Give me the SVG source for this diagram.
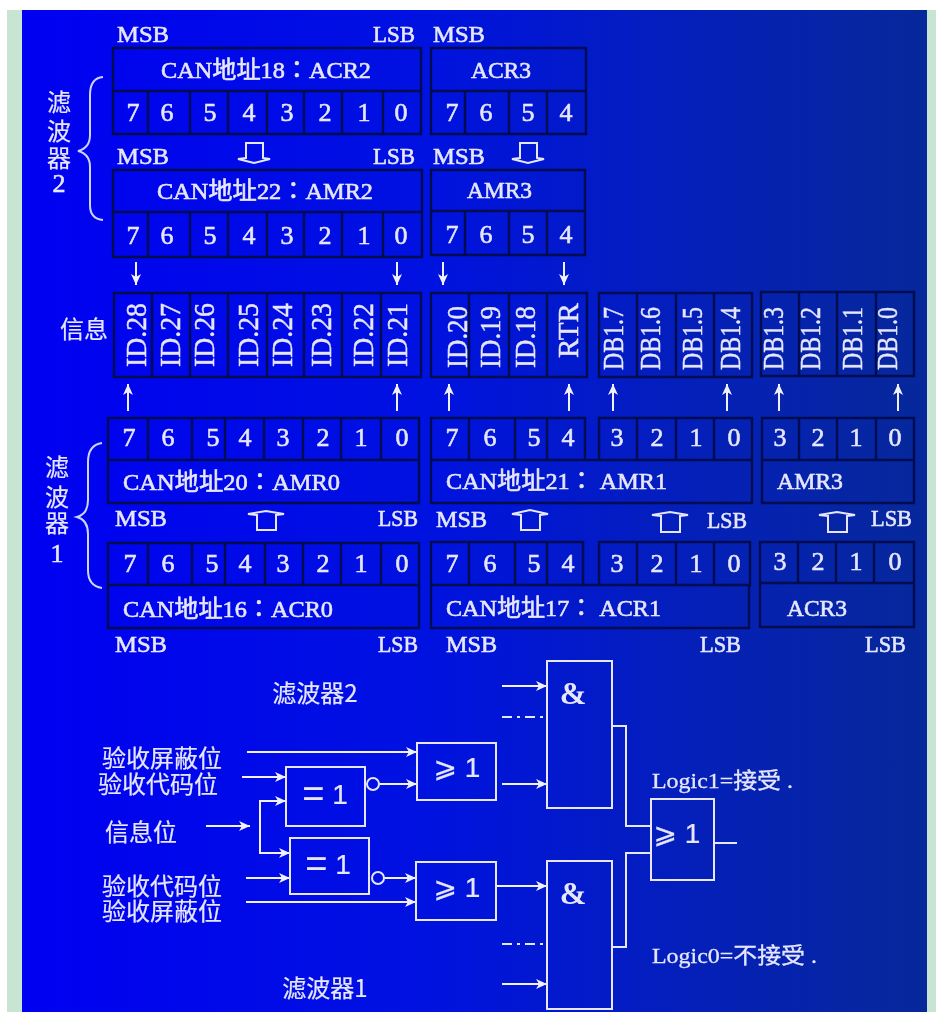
<svg xmlns="http://www.w3.org/2000/svg" width="936" height="1012" viewBox="0 0 936 1012">
<style>
text{font-family:"Liberation Serif","Noto Sans CJK TC",serif;fill:#e6e6ff;stroke:#e6e6ff;stroke-width:.6;filter:url(#soft)}
.d{font-size:26px;text-anchor:middle}
.l{font-size:24px}
.v{font-size:29px;stroke-width:.4}
.z{font-size:24px;font-family:"Noto Sans CJK SC",sans-serif;text-anchor:middle;stroke-width:.2}
.g{font-family:"Liberation Sans","DejaVu Sans",sans-serif;font-size:28px;text-anchor:middle;stroke-width:.2}
.amp{font-size:32px;text-anchor:middle;font-weight:bold;stroke-width:0}
.t{fill:none;stroke:#000c50;stroke-width:2.4}
.c{fill:none;stroke:#e6e6ff;stroke-width:2}
.a{fill:none;stroke:#f0f0ff;stroke-width:2;marker-end:url(#ah)}
.h{fill:none;stroke:#e6e6ff;stroke-width:2}
.b{fill:none;stroke:#ccd4ff;stroke-width:2}
</style>
<defs>
<filter id="soft" x="-5%" y="-5%" width="110%" height="110%"><feGaussianBlur stdDeviation=".35"/></filter>
<linearGradient id="bg" x1="0" x2="1" y1="0" y2="0">
<stop offset="0" stop-color="#0000f2"/><stop offset=".45" stop-color="#0012e0"/><stop offset=".75" stop-color="#0420b8"/><stop offset="1" stop-color="#06289a"/>
</linearGradient>
<marker id="ah" markerUnits="userSpaceOnUse" markerWidth="12" markerHeight="12" refX="11" refY="6" orient="auto">
<path d="M0 1L11 6L0 11L3 6Z" fill="#f0f0ff"/>
</marker>
</defs>
<rect width="936" height="1012" fill="#fff"/>
<rect x="7" y="10" width="929" height="1002" fill="#c8e4d2"/>
<rect x="22" y="10" width="905" height="1002" fill="url(#bg)"/>

<g id="filter2-acr-main"><path class="t" d="M113 48H421V134H113ZM113 91H421M148 91V134M190 91V134M228 91V134M267 91V134M304 91V134M342 91V134M383 91V134"/>
<text class="l" x="161" y="78" textLength="210" lengthAdjust="spacingAndGlyphs">CAN地址18：ACR2</text>
<text class="d" x="133" y="121">7</text><text class="d" x="167" y="121">6</text><text class="d" x="210" y="121">5</text><text class="d" x="249" y="121">4</text><text class="d" x="287" y="121">3</text><text class="d" x="325" y="121">2</text><text class="d" x="364" y="121">1</text><text class="d" x="401" y="121">0</text></g>
<g id="filter2-acr3"><path class="t" d="M431 48H586V134H431ZM431 91H586M465 91V134M509 91V134M547 91V134"/>
<text class="l" x="471" y="78" textLength="60" lengthAdjust="spacingAndGlyphs">ACR3</text>
<text class="d" x="452" y="121">7</text><text class="d" x="486" y="121">6</text><text class="d" x="528" y="121">5</text><text class="d" x="566" y="121">4</text></g>
<g id="filter2-amr-main"><path class="t" d="M113 170H422V257H113ZM113 212H422M148 212V257M190 212V257M228 212V257M267 212V257M304 212V257M342 212V257M383 212V257"/>
<text class="l" x="157" y="199" textLength="216" lengthAdjust="spacingAndGlyphs">CAN地址22：AMR2</text>
<text class="d" x="133" y="244">7</text><text class="d" x="167" y="244">6</text><text class="d" x="210" y="244">5</text><text class="d" x="249" y="244">4</text><text class="d" x="287" y="244">3</text><text class="d" x="325" y="244">2</text><text class="d" x="364" y="244">1</text><text class="d" x="401" y="244">0</text></g>
<g id="filter2-amr3"><path class="t" d="M431 170H585V255H431ZM431 211H585M465 211V255M509 211V255M547 211V255"/>
<text class="l" x="467" y="198" textLength="65" lengthAdjust="spacingAndGlyphs">AMR3</text>
<text class="d" x="452" y="243">7</text><text class="d" x="486" y="243">6</text><text class="d" x="528" y="243">5</text><text class="d" x="566" y="243">4</text></g>

<g id="top-labels">
<text class="l" x="117" y="42" textLength="52" lengthAdjust="spacingAndGlyphs">MSB</text><text class="l" x="373" y="42" textLength="42" lengthAdjust="spacingAndGlyphs">LSB</text><text class="l" x="433" y="42" textLength="52" lengthAdjust="spacingAndGlyphs">MSB</text>
<text class="l" x="117" y="164" textLength="52" lengthAdjust="spacingAndGlyphs">MSB</text><text class="l" x="373" y="164" textLength="42" lengthAdjust="spacingAndGlyphs">LSB</text><text class="l" x="433" y="164" textLength="52" lengthAdjust="spacingAndGlyphs">MSB</text>
</g>
<g id="filter2-label"><path class="b" d="M103 77Q90 78 90 95V135Q90 148 78 151Q90 154 90 167V205Q90 219 103 220"/>
<text class="z" x="59" y="111">滤</text><text class="z" x="59" y="140">波</text><text class="z" x="59" y="167">器</text><text class="d" x="59" y="192">2</text></g>

<g id="message-id-main"><path class="t" d="M114 293H421V377H114ZM152 293V377M190 293V377M228 293V377M267 293V377M304 293V377M342 293V377M381 293V377"/>
<text class="z" x="84" y="338">信息</text>
<text class="v" transform="translate(146 367) rotate(-90)" textLength="64" lengthAdjust="spacingAndGlyphs">ID.28</text>
<text class="v" transform="translate(180 367) rotate(-90)" textLength="64" lengthAdjust="spacingAndGlyphs">ID.27</text>
<text class="v" transform="translate(214 367) rotate(-90)" textLength="64" lengthAdjust="spacingAndGlyphs">ID.26</text>
<text class="v" transform="translate(258 367) rotate(-90)" textLength="64" lengthAdjust="spacingAndGlyphs">ID.25</text>
<text class="v" transform="translate(292 367) rotate(-90)" textLength="64" lengthAdjust="spacingAndGlyphs">ID.24</text>
<text class="v" transform="translate(331 367) rotate(-90)" textLength="64" lengthAdjust="spacingAndGlyphs">ID.23</text>
<text class="v" transform="translate(373 367) rotate(-90)" textLength="64" lengthAdjust="spacingAndGlyphs">ID.22</text>
<text class="v" transform="translate(407 367) rotate(-90)" textLength="64" lengthAdjust="spacingAndGlyphs">ID.21</text></g>
<g id="message-id-low"><path class="t" d="M431 293H587V377H431ZM469 293V377M509 293V377M547 293V377"/>
<text class="v" transform="translate(467 368) rotate(-90)" textLength="62" lengthAdjust="spacingAndGlyphs">ID.20</text>
<text class="v" transform="translate(500 368) rotate(-90)" textLength="62" lengthAdjust="spacingAndGlyphs">ID.19</text>
<text class="v" transform="translate(535 368) rotate(-90)" textLength="62" lengthAdjust="spacingAndGlyphs">ID.18</text>
<text class="v" transform="translate(578 358) rotate(-90)" textLength="55" lengthAdjust="spacingAndGlyphs">RTR</text></g>
<g id="message-db-high"><path class="t" d="M599 293H752V377H599ZM637 293V377M676 293V377M714 293V377"/>
<text class="v" transform="translate(623 370) rotate(-90)" textLength="63" lengthAdjust="spacingAndGlyphs">DB1.7</text>
<text class="v" transform="translate(660 370) rotate(-90)" textLength="63" lengthAdjust="spacingAndGlyphs">DB1.6</text>
<text class="v" transform="translate(702 370) rotate(-90)" textLength="63" lengthAdjust="spacingAndGlyphs">DB1.5</text>
<text class="v" transform="translate(740 370) rotate(-90)" textLength="63" lengthAdjust="spacingAndGlyphs">DB1.4</text></g>
<g id="message-db-low"><path class="t" d="M761 292H914V376H761ZM799 292V376M837 292V376M876 292V376"/>
<text class="v" transform="translate(783 370) rotate(-90)" textLength="63" lengthAdjust="spacingAndGlyphs">DB1.3</text>
<text class="v" transform="translate(820 370) rotate(-90)" textLength="63" lengthAdjust="spacingAndGlyphs">DB1.2</text>
<text class="v" transform="translate(862 370) rotate(-90)" textLength="63" lengthAdjust="spacingAndGlyphs">DB1.1</text>
<text class="v" transform="translate(897 370) rotate(-90)" textLength="63" lengthAdjust="spacingAndGlyphs">DB1.0</text></g>

<g id="filter1-amr0"><path class="t" d="M108 418H419V503H108ZM108 460H419M148 418V460M192 418V460M225 418V460M264 418V460M303 418V460M341 418V460M381 418V460"/>
<text class="l" x="123" y="490" textLength="217" lengthAdjust="spacingAndGlyphs">CAN地址20：AMR0</text>
<text class="d" x="129" y="446">7</text><text class="d" x="168" y="446">6</text><text class="d" x="213" y="446">5</text><text class="d" x="245" y="446">4</text><text class="d" x="283" y="446">3</text><text class="d" x="323" y="446">2</text><text class="d" x="361" y="446">1</text><text class="d" x="402" y="446">0</text></g>
<g id="filter1-amr1"><path class="t" d="M431 418H585V460H431ZM599 418H752V460H599ZM431 460H752V503H431ZM469 418V460M515 418V460M547 418V460M637 418V460M676 418V460M714 418V460"/>
<text class="l" x="446" y="489" textLength="221" lengthAdjust="spacingAndGlyphs">CAN地址21： AMR1</text>
<text class="d" x="452" y="446">7</text><text class="d" x="490" y="446">6</text><text class="d" x="534" y="446">5</text><text class="d" x="568" y="446">4</text><text class="d" x="617" y="446">3</text><text class="d" x="657" y="446">2</text><text class="d" x="696" y="446">1</text><text class="d" x="734" y="446">0</text></g>
<g id="filter1-amr3"><path class="t" d="M762 418H914V503H762ZM762 460H914M799 418V460M837 418V460M876 418V460"/>
<text class="l" x="777" y="489" textLength="66" lengthAdjust="spacingAndGlyphs">AMR3</text>
<text class="d" x="780" y="446">3</text><text class="d" x="818" y="446">2</text><text class="d" x="856" y="446">1</text><text class="d" x="895" y="446">0</text></g>
<g id="filter1-acr0"><path class="t" d="M108 543H419V628H108ZM108 585H419M148 543V585M192 543V585M225 543V585M265 543V585M303 543V585M341 543V585M381 543V585"/>
<text class="l" x="123" y="617" textLength="210" lengthAdjust="spacingAndGlyphs">CAN地址16：ACR0</text>
<text class="d" x="130" y="572">7</text><text class="d" x="168" y="572">6</text><text class="d" x="212" y="572">5</text><text class="d" x="245" y="572">4</text><text class="d" x="283" y="572">3</text><text class="d" x="323" y="572">2</text><text class="d" x="361" y="572">1</text><text class="d" x="402" y="572">0</text></g>
<g id="filter1-acr1"><path class="t" d="M431 542H583V585H431ZM599 542H750V585H599ZM431 585H749V628H431ZM469 542V585M515 542V585M547 542V585M637 542V585M676 542V585M714 542V585"/>
<text class="l" x="446" y="616" textLength="215" lengthAdjust="spacingAndGlyphs">CAN地址17： ACR1</text>
<text class="d" x="452" y="572">7</text><text class="d" x="490" y="572">6</text><text class="d" x="534" y="572">5</text><text class="d" x="568" y="572">4</text><text class="d" x="617" y="572">3</text><text class="d" x="657" y="572">2</text><text class="d" x="696" y="572">1</text><text class="d" x="734" y="572">0</text></g>
<g id="filter1-acr3"><path class="t" d="M760 542H914V627H760ZM760 583H914M798 542V583M836 542V583M874 542V583"/>
<text class="l" x="787" y="616" textLength="60" lengthAdjust="spacingAndGlyphs">ACR3</text>
<text class="d" x="780" y="570">3</text><text class="d" x="818" y="570">2</text><text class="d" x="856" y="570">1</text><text class="d" x="895" y="570">0</text></g>

<g id="lower-labels">
<text class="l" x="115" y="526" textLength="52" lengthAdjust="spacingAndGlyphs">MSB</text><text class="l" x="378" y="526" textLength="40" lengthAdjust="spacingAndGlyphs">LSB</text>
<text class="l" x="436" y="527" textLength="51" lengthAdjust="spacingAndGlyphs">MSB</text><text class="l" x="707" y="528" textLength="40" lengthAdjust="spacingAndGlyphs">LSB</text><text class="l" x="871" y="526" textLength="41" lengthAdjust="spacingAndGlyphs">LSB</text>
<text class="l" x="115" y="652" textLength="52" lengthAdjust="spacingAndGlyphs">MSB</text><text class="l" x="378" y="652" textLength="40" lengthAdjust="spacingAndGlyphs">LSB</text>
<text class="l" x="446" y="652" textLength="51" lengthAdjust="spacingAndGlyphs">MSB</text><text class="l" x="700" y="652" textLength="41" lengthAdjust="spacingAndGlyphs">LSB</text><text class="l" x="865" y="652" textLength="41" lengthAdjust="spacingAndGlyphs">LSB</text>
</g>
<g id="filter1-label"><path class="b" d="M102 443Q88 445 88 462V500Q88 514 77 517Q88 520 88 534V570Q88 586 102 588"/>
<text class="z" x="57" y="476">滤</text><text class="z" x="57" y="506">波</text><text class="z" x="57" y="532">器</text><text class="d" x="57" y="562">1</text></g>

<g id="connectors">
<path class="a" d="M136 262V285"/><path class="a" d="M397 262V285"/><path class="a" d="M443 262V285"/><path class="a" d="M564 262V285"/>
<path class="a" d="M128 411V384"/><path class="a" d="M397 411V384"/><path class="a" d="M449 411V384"/><path class="a" d="M569 411V384"/><path class="a" d="M613 411V384"/><path class="a" d="M727 411V384"/><path class="a" d="M779 411V384"/><path class="a" d="M898 411V384"/>
<path class="h" d="M246 143H263V158L270 159L254 163L238 159L246 158Z"/>
<path class="h" d="M520 143H537V158L544 159L528 163L512 159L520 158Z"/>
<path class="h" d="M257 530H276V515L284 514L266 511L248 514L257 515Z"/>
<path class="h" d="M521 530H540V515L548 514L530 510L512 514L521 515Z"/>
<path class="h" d="M661 532H680V516L688 515L670 512L652 515L661 516Z"/>
<path class="h" d="M828 532H847V516L855 515L837 512L819 515L828 516Z"/>
<path class="a" d="M247 752H417"/><path class="a" d="M242 777H286"/><path class="a" d="M206 826H250"/>
<path class="a" d="M286 801H260V853H290"/><path class="a" d="M260 801H286"/>
<path class="a" d="M246 878H290"/><path class="a" d="M246 902H416"/>
<path class="a" d="M379 784H417"/><path class="a" d="M384 878H416"/>
<path class="a" d="M502 686H547"/><path class="a" d="M502 784H547"/><path class="a" d="M496 886H547"/><path class="a" d="M502 984H547"/>
<path class="c" stroke-dasharray="10 5 3 5 10 5" d="M502 717H543M502 944H543"/>
<path class="c" d="M612 726H626V826H651M612 947H626V853H651M714 843H737"/>
<circle class="c" cx="373" cy="784" r="6"/><circle class="c" cx="378" cy="878" r="6"/>
</g>

<g id="xor-top"><rect class="c" x="286" y="767" width="79" height="59"/><text class="g" x="325" y="804"><tspan font-size="38" dy="3">=</tspan><tspan dy="-3"> 1</tspan></text></g>
<g id="xor-bottom"><rect class="c" x="290" y="838" width="79" height="56"/><text class="g" x="328" y="874"><tspan font-size="38" dy="3">=</tspan><tspan dy="-3"> 1</tspan></text></g>
<g id="or-top"><rect class="c" x="417" y="743" width="79" height="57"/><text class="g" x="457" y="777">⩾ 1</text></g>
<g id="or-bottom"><rect class="c" x="416" y="862" width="80" height="58"/><text class="g" x="457" y="897">⩾ 1</text></g>
<g id="and-top"><rect class="c" x="547" y="661" width="65" height="147"/><text class="amp" x="573" y="704">&amp;</text></g>
<g id="and-bottom"><rect class="c" x="547" y="861" width="65" height="148"/><text class="amp" x="573" y="904">&amp;</text></g>
<g id="or-final"><rect class="c" x="651" y="799" width="63" height="81"/><text class="g" x="677" y="843">⩾ 1</text></g>

<g id="logic-labels">
<text class="z" x="315" y="702">滤波器2</text>
<text class="z" x="162" y="767">验收屏蔽位</text>
<text class="z" x="158" y="793">验收代码位</text>
<text class="z" x="141" y="841">信息位</text>
<text class="z" x="162" y="895">验收代码位</text>
<text class="z" x="162" y="920">验收屏蔽位</text>
<text class="z" x="325" y="997">滤波器1</text>
<text x="652" y="788" font-size="22" textLength="141" lengthAdjust="spacingAndGlyphs" style="stroke-width:.3">Logic1=接受 .</text>
<text x="652" y="963" font-size="22" textLength="165" lengthAdjust="spacingAndGlyphs" style="stroke-width:.3">Logic0=不接受 .</text>
</g>
</svg>
